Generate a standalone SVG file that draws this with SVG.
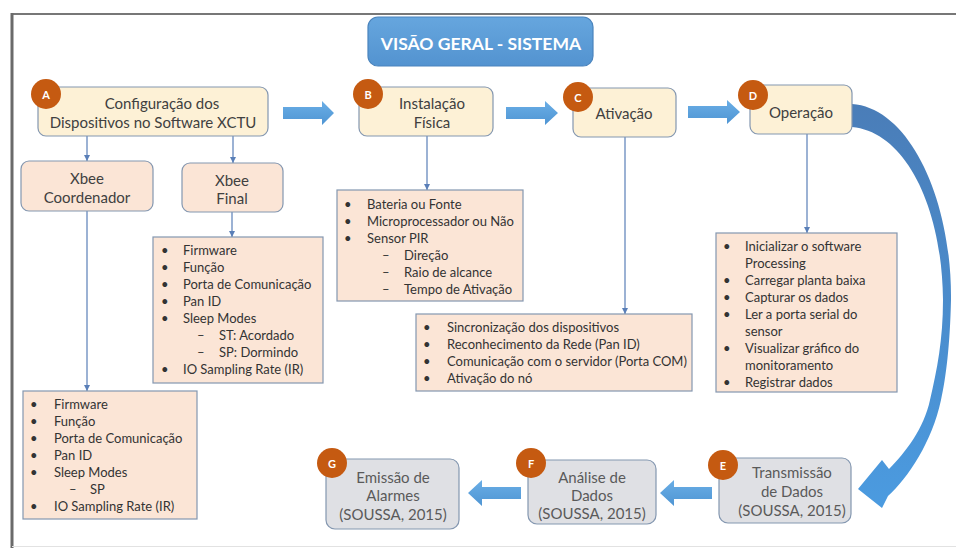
<svg xmlns="http://www.w3.org/2000/svg" width="956" height="548" viewBox="0 0 956 548">
<defs>
<style>
text{font-family:Lato,"Open Sans","Liberation Sans",sans-serif;}
.nt{font-size:15px;fill:#404040;text-anchor:middle;}
.gt{font-size:15px;fill:#5a5a5a;text-anchor:middle;}
.lt{font-size:13px;fill:#333;}
.step{fill:#fdf1d6;stroke:#8497b0;stroke-width:1.2;}
.xb{fill:#fbe5d6;stroke:#8497b0;stroke-width:1.2;}
.lb{fill:#fbe5d6;stroke:#8497b0;stroke-width:1.2;}
.gb{fill:#dfe0e4;stroke:#8497b0;stroke-width:1.2;}
.badge{fill:#c55a11;}
.bl{font-size:11px;font-weight:bold;fill:#fff;text-anchor:middle;}
.con{stroke:#5a7fb8;stroke-width:1.2;fill:none;marker-end:url(#ah);}
.blk{fill:url(#bg);}
</style>
<marker id="ah" viewBox="0 0 6 6" refX="6" refY="3" markerWidth="6" markerHeight="6" markerUnits="userSpaceOnUse" orient="auto">
<path d="M0,0 L6,3 L0,6 Z" fill="#5a7fb8"/>
</marker>
<linearGradient id="bg" x1="0" y1="0" x2="0" y2="1">
<stop offset="0" stop-color="#6aaee6"/>
<stop offset="1" stop-color="#4f95d3"/>
</linearGradient>
<linearGradient id="cg" x1="0" y1="0" x2="0" y2="1">
<stop offset="0" stop-color="#4a7db8"/>
<stop offset="1" stop-color="#4b9be0"/>
</linearGradient>
<linearGradient id="tg" x1="0" y1="0" x2="0" y2="1">
<stop offset="0" stop-color="#66a6de"/>
<stop offset="1" stop-color="#5393d0"/>
</linearGradient>
</defs>
<rect x="0" y="0" width="956" height="548" fill="#fff"/>
<g id="frame">
<line x1="12" y1="14" x2="956" y2="14" stroke="#777" stroke-width="2"/>
<line x1="12" y1="13" x2="12" y2="548" stroke="#6a6a6a" stroke-width="3"/>
<line x1="12" y1="546.5" x2="956" y2="546.5" stroke="#e2e2e2" stroke-width="1"/>
</g>
<g id="title">
<rect x="368" y="17" width="225" height="49" rx="10" fill="url(#tg)" stroke="#4a84bd" stroke-width="1.2"/>
<text x="481" y="50" font-size="17.5" font-weight="bold" fill="#fff" text-anchor="middle">VISÃO GERAL - SISTEMA</text>
</g>
<g id="connectors">
<line class="con" x1="87" y1="136" x2="87" y2="161"/>
<line class="con" x1="233" y1="136" x2="233" y2="163"/>
<line class="con" x1="87" y1="211" x2="87" y2="391"/>
<line class="con" x1="232" y1="212" x2="232" y2="237"/>
<line class="con" x1="427" y1="136" x2="427" y2="190"/>
<line class="con" x1="625" y1="137" x2="625" y2="314"/>
<line class="con" x1="807" y1="134" x2="807" y2="233"/>
<polygon class="blk" points="283,107 322,107 322,101 334,113 322,125 322,119 283,119"/>
<polygon class="blk" points="506,107 545,107 545,101 558,113 545,125 545,119 506,119"/>
<polygon class="blk" points="688,106 727,106 727,100 740,112 727,124 727,118 688,118"/>
<polygon class="blk" points="712,487 674,487 674,480 660,493 674,506 674,499 712,499"/>
<polygon class="blk" points="521,487 482,487 482,480 468,493 482,506 482,499 521,499"/>
<path fill="url(#cg)" d="M852,104 C910,108 952,200 951,300 C950,345 946,378 941,400 C932,442 908,478 888,496 L882,508 L858,489 L882,460 L889,469 C906,452 924,428 930,400 C937,370 943,340 943,300 C942,205 905,132 852,127 Z"/>
</g>
<g id="nodeA">
<rect class="step" x="38" y="87" width="230" height="49" rx="8"/>
<text class="nt" x="162" y="109">Configuração dos</text>
<text class="nt" x="153" y="128">Dispositivos no Software XCTU</text>
<circle class="badge" cx="46" cy="94" r="15"/>
<text class="bl" x="46" y="99">A</text>
</g>
<g id="nodeB">
<rect class="step" x="359" y="87" width="134" height="49" rx="8"/>
<text class="nt" x="432" y="109">Instalação</text>
<text class="nt" x="432" y="128">Física</text>
<circle class="badge" cx="368" cy="94" r="15"/>
<text class="bl" x="368" y="99">B</text>
</g>
<g id="nodeC">
<rect class="step" x="573" y="88" width="103" height="49" rx="8"/>
<text class="nt" x="624" y="119">Ativação</text>
<circle class="badge" cx="578" cy="97" r="15"/>
<text class="bl" x="578" y="102">C</text>
</g>
<g id="nodeD">
<rect class="step" x="750" y="85" width="102" height="49" rx="8"/>
<text class="nt" x="801" y="118">Operação</text>
<circle class="badge" cx="753" cy="95" r="15"/>
<text class="bl" x="753" y="100">D</text>
</g>
<g id="xbeeCoord">
<rect class="xb" x="21" y="161" width="132" height="50" rx="8"/>
<text class="nt" x="87" y="184">Xbee</text>
<text class="nt" x="87" y="203">Coordenador</text>
</g>
<g id="xbeeFinal">
<rect class="xb" x="182" y="163" width="101" height="49" rx="8"/>
<text class="nt" x="232" y="186">Xbee</text>
<text class="nt" x="232" y="204">Final</text>
</g>
<g id="listCoord">
<rect class="lb" x="23" y="391" width="174" height="128"/>
<g class="lt">
<text x="30" y="409">•</text><text x="54" y="409">Firmware</text>
<text x="30" y="426">•</text><text x="54" y="426">Função</text>
<text x="30" y="443">•</text><text x="54" y="443">Porta de Comunicação</text>
<text x="30" y="460">•</text><text x="54" y="460">Pan ID</text>
<text x="30" y="477">•</text><text x="54" y="477">Sleep Modes</text>
<text x="69" y="494">–</text><text x="90" y="494">SP</text>
<text x="30" y="511">•</text><text x="54" y="511">IO Sampling Rate (IR)</text>
</g>
</g>
<g id="listFinal">
<rect class="lb" x="153" y="237" width="170" height="146"/>
<g class="lt">
<text x="161" y="255">•</text><text x="183" y="255">Firmware</text>
<text x="161" y="272">•</text><text x="183" y="272">Função</text>
<text x="161" y="289">•</text><text x="183" y="289">Porta de Comunicação</text>
<text x="161" y="306">•</text><text x="183" y="306">Pan ID</text>
<text x="161" y="323">•</text><text x="183" y="323">Sleep Modes</text>
<text x="197" y="340">–</text><text x="219" y="340">ST: Acordado</text>
<text x="197" y="357">–</text><text x="219" y="357">SP: Dormindo</text>
<text x="161" y="374">•</text><text x="183" y="374">IO Sampling Rate (IR)</text>
</g>
</g>
<g id="listB">
<rect class="lb" x="337" y="190" width="186" height="111"/>
<g class="lt">
<text x="344" y="209">•</text><text x="367" y="209">Bateria ou Fonte</text>
<text x="344" y="226">•</text><text x="367" y="226">Microprocessador ou Não</text>
<text x="344" y="243">•</text><text x="367" y="243">Sensor PIR</text>
<text x="382" y="260">–</text><text x="404" y="260">Direção</text>
<text x="382" y="277">–</text><text x="404" y="277">Raio de alcance</text>
<text x="382" y="294">–</text><text x="404" y="294">Tempo de Ativação</text>
</g>
</g>
<g id="listC">
<rect class="lb" x="416" y="314" width="276" height="77"/>
<g class="lt">
<text x="423" y="332">•</text><text x="447" y="332">Sincronização dos dispositivos</text>
<text x="423" y="349">•</text><text x="447" y="349">Reconhecimento da Rede (Pan ID)</text>
<text x="423" y="366">•</text><text x="447" y="366">Comunicação com o servidor (Porta COM)</text>
<text x="423" y="383">•</text><text x="447" y="383">Ativação do nó</text>
</g>
</g>
<g id="listD">
<rect class="lb" x="716" y="233" width="181" height="159"/>
<g class="lt">
<text x="723" y="251">•</text><text x="745" y="251">Inicializar o software</text>
<text x="745" y="268">Processing</text>
<text x="723" y="285">•</text><text x="745" y="285">Carregar planta baixa</text>
<text x="723" y="302">•</text><text x="745" y="302">Capturar os dados</text>
<text x="723" y="319">•</text><text x="745" y="319">Ler a porta serial do</text>
<text x="745" y="336">sensor</text>
<text x="723" y="353">•</text><text x="745" y="353">Visualizar gráfico do</text>
<text x="745" y="370">monitoramento</text>
<text x="723" y="387">•</text><text x="745" y="387">Registrar dados</text>
</g>
</g>
<g id="nodeE">
<rect class="gb" x="719" y="458" width="132" height="65" rx="9"/>
<text class="gt" x="792" y="478">Transmissão</text>
<text class="gt" x="792" y="497">de Dados</text>
<text class="gt" x="792" y="516">(SOUSSA, 2015)</text>
<circle class="badge" cx="723" cy="465" r="15"/>
<text class="bl" x="723" y="470">E</text>
</g>
<g id="nodeF">
<rect class="gb" x="528" y="460" width="128" height="64" rx="9"/>
<text class="gt" x="592" y="483">Análise de</text>
<text class="gt" x="592" y="501">Dados</text>
<text class="gt" x="592" y="519">(SOUSSA, 2015)</text>
<circle class="badge" cx="531" cy="463" r="15"/>
<text class="bl" x="531" y="468">F</text>
</g>
<g id="nodeG">
<rect class="gb" x="326" y="459" width="133" height="70" rx="9"/>
<text class="gt" x="393" y="483">Emissão de</text>
<text class="gt" x="393" y="501">Alarmes</text>
<text class="gt" x="393" y="520">(SOUSSA, 2015)</text>
<circle class="badge" cx="332" cy="463" r="15"/>
<text class="bl" x="332" y="468">G</text>
</g>
</svg>
